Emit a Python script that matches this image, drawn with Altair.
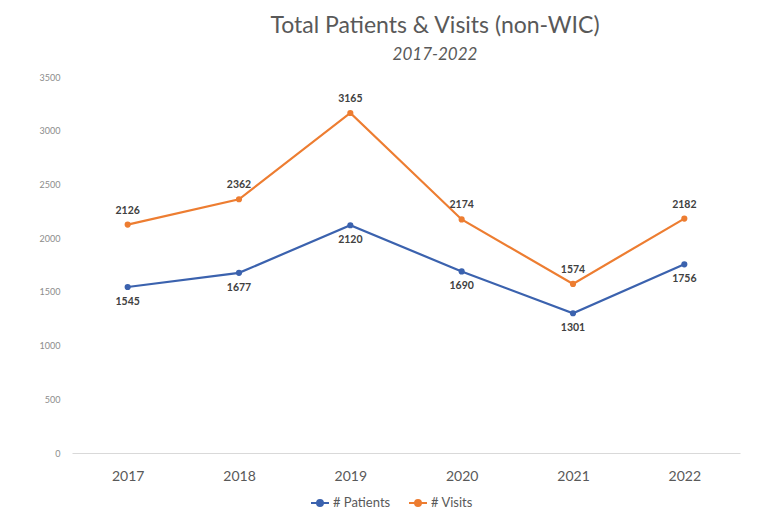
import altair as alt
import pandas as pd

years = ["2017", "2018", "2019", "2020", "2021", "2022"]
patients = [1545, 1677, 2120, 1690, 1301, 1756]
visits = [2126, 2362, 3165, 2174, 1574, 2182]
series_names = ["# Patients", "# Visits"]
series_colors = ["#3B62AE", "#ED7D31"]
y_ticks = [0, 500, 1000, 1500, 2000, 2500, 3000, 3500]

rows = []
for y, p in zip(years, patients):
    rows.append({"year": y, "series": series_names[0], "value": p})
for y, v in zip(years, visits):
    rows.append({"year": y, "series": series_names[1], "value": v})
df = pd.DataFrame(rows)

font = "Lato"

x_enc = alt.X(
    "year:O",
    sort=years,
    scale=alt.Scale(type="point", padding=0.5),
    axis=alt.Axis(
        title=None, labelAngle=0, ticks=False, labelPadding=16,
        labelFontSize=14, labelColor="#595959", labelFont=font,
        domainColor="#d9d9d9", domainWidth=1,
    ),
)
y_enc = alt.Y(
    "value:Q",
    scale=alt.Scale(domain=[0, 3500], nice=False),
    axis=alt.Axis(
        title=None, values=y_ticks, grid=False, domain=False, ticks=False, format="d",
        labelPadding=12, labelFontSize=9, labelColor="#8c8c8c", labelFont=font,
    ),
)
color_enc = alt.Color(
    "series:N",
    scale=alt.Scale(domain=series_names, range=series_colors),
    legend=alt.Legend(
        title=None, orient="none", direction="horizontal",
        legendX=238, legendY=416,
        symbolType="M-1,0L1,0M-0.33,0a0.33,0.33 0 1,0 0.66,0a0.33,0.33 0 1,0 -0.66,0",
        symbolSize=324, symbolStrokeWidth=2,
        labelFontSize=13, labelColor="#595959", labelFont=font,
        labelOffset=3, columnPadding=14,
    ),
)

base = alt.Chart(df).encode(x=x_enc, y=y_enc, color=color_enc)

lines = base.mark_line(strokeWidth=2.2)
points = base.mark_point(filled=True, size=38, opacity=1)

lab_p = alt.Chart(df).transform_filter(alt.datum.series == series_names[0]).mark_text(
    dy=15, fontSize=10.5, fontWeight="bold", color="#404040", font=font
).encode(x=x_enc, y=y_enc, text="value:Q")
lab_v = alt.Chart(df).transform_filter(alt.datum.series == series_names[1]).mark_text(
    dy=-14, fontSize=10.5, fontWeight="bold", color="#404040", font=font
).encode(x=x_enc, y=y_enc, text="value:Q")

chart = alt.layer(lines, points, lab_p, lab_v).properties(
    width=668,
    height=376,
    autosize=alt.AutoSizeParams(type="none"),
    padding={"left": 64, "top": 69, "right": 10, "bottom": 62},
    background="white",
    title=alt.TitleParams(
        text="Total Patients & Visits (non-WIC)",
        subtitle="2017-2022",
        font=font, fontSize=23, fontWeight="normal", color="#595959",
        subtitleFont=font, subtitleFontSize=17, subtitleFontStyle="italic",
        subtitleColor="#595959", subtitlePadding=9,
        anchor="middle", dx=29, offset=10,
    ),
).configure_view(strokeWidth=0)

chart.save("out.html", embed_options={"renderer": "svg", "actions": False})
